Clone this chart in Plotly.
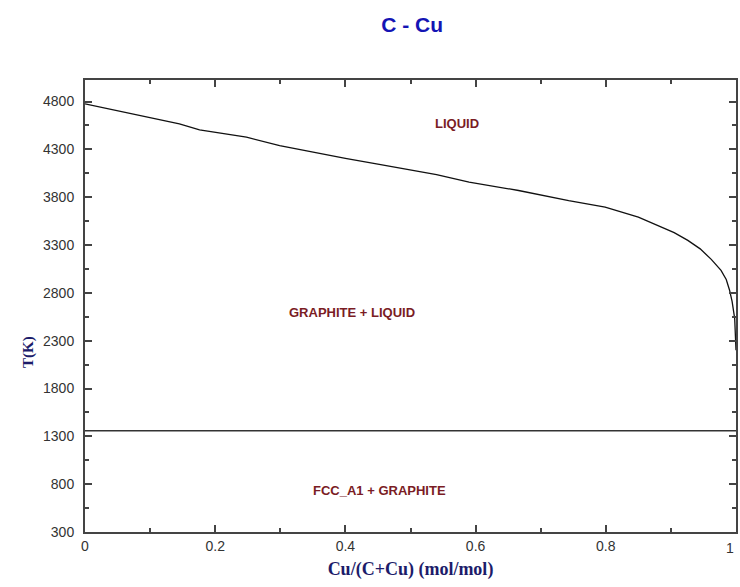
import plotly.graph_objects as go

# Liquidus curve (Cu mole fraction, T in K)
liq_x = [0.0, 0.05, 0.10, 0.145, 0.176, 0.248, 0.299, 0.350, 0.40, 0.452, 0.487,
         0.54, 0.590, 0.666, 0.743, 0.799, 0.850, 0.881, 0.905, 0.926, 0.945, 0.962, 0.977,
         0.985, 0.990, 0.994, 0.998, 1.0]
liq_T = [4775, 4705, 4630, 4567, 4504, 4427, 4340, 4270, 4205, 4142, 4097,
         4035, 3957, 3870, 3764, 3696, 3592, 3505, 3430, 3348, 3260, 3150, 3035,
         2940, 2830, 2710, 2530, 2200]

# Eutectic / invariant line
eut_x = [0.0, 1.0]
eut_T = [1358, 1358]

region_labels = ["LIQUID", "GRAPHITE + LIQUID", "FCC_A1 + GRAPHITE"]
region_x = [0.571, 0.410, 0.452]
region_T = [4574, 2599, 739]

x_ticks = [0, 0.2, 0.4, 0.6, 0.8, 1]
x_ticklabels = ["0", "0.2", "0.4", "0.6", "0.8", "1"]
y_ticks = [300, 800, 1300, 1800, 2300, 2800, 3300, 3800, 4300, 4800]

SANS = "Liberation Sans, Arial"
SERIF = "Liberation Serif, Times New Roman"

fig = go.Figure()
fig.add_trace(go.Scatter(x=liq_x, y=liq_T, mode="lines",
                         line=dict(color="#111111", width=1.3),
                         showlegend=False, hoverinfo="skip"))
fig.add_trace(go.Scatter(x=eut_x, y=eut_T, mode="lines",
                         line=dict(color="#333333", width=1.5),
                         showlegend=False, hoverinfo="skip"))

for lab, xx, yy in zip(region_labels, region_x, region_T):
    fig.add_annotation(x=xx, y=yy, text=lab, showarrow=False,
                       font=dict(family=SANS, size=13, color="#7a1c24", weight="bold"))

# last x tick label (kept visible at the page edge)
fig.add_annotation(x=x_ticks[-1], xref="x", y=0, yref="paper", yshift=-16,
                   xanchor="right", xshift=0, yanchor="middle",
                   text=x_ticklabels[-1], showarrow=False,
                   font=dict(family=SANS, size=14, color="#333"))

# y axis title
fig.add_annotation(x=-0.104, xref="paper", y=0.398, yref="paper", text="T(K)",
                   textangle=-90, showarrow=False,
                   font=dict(family=SERIF, size=15, color="#1c1c6a", weight="bold"))

fig.update_layout(
    width=740, height=587,
    margin=dict(l=85, r=2, t=80, b=55),
    paper_bgcolor="white", plot_bgcolor="white",
    title=dict(text="C - Cu", x=0.557, xanchor="center", y=1 - 25 / 587, yanchor="middle",
               font=dict(family=SANS, size=21, color="#1414b4", weight="bold")),
    xaxis=dict(range=[0, 1], tickvals=x_ticks[:-1], ticktext=x_ticklabels[:-1],
               ticks="inside", ticklen=7, tickwidth=1.5, tickcolor="#444",
               minor=dict(dtick=0.1, ticks="inside", ticklen=4, tickwidth=1.5, tickcolor="#444"),
               showline=True, linecolor="#444", linewidth=2, mirror="allticks",
               showgrid=False, zeroline=False,
               tickfont=dict(family=SANS, size=14, color="#333"),
               title=dict(text="Cu/(C+Cu) (mol/mol)", standoff=10,
                          font=dict(family=SERIF, size=18, color="#1c1c6a", weight="bold"))),
    yaxis=dict(range=[300, 5025], tickvals=y_ticks,
               ticks="inside", ticklen=7, tickwidth=1.5, tickcolor="#444",
               minor=dict(tick0=300, dtick=250, ticks="inside", ticklen=4, tickwidth=1.5, tickcolor="#444"),
               showline=True, linecolor="#444", linewidth=2, mirror="allticks",
               showgrid=False, zeroline=False, ticklabelstandoff=6,
               tickfont=dict(family=SANS, size=14, color="#333")),
)

fig.write_html("out.html")
